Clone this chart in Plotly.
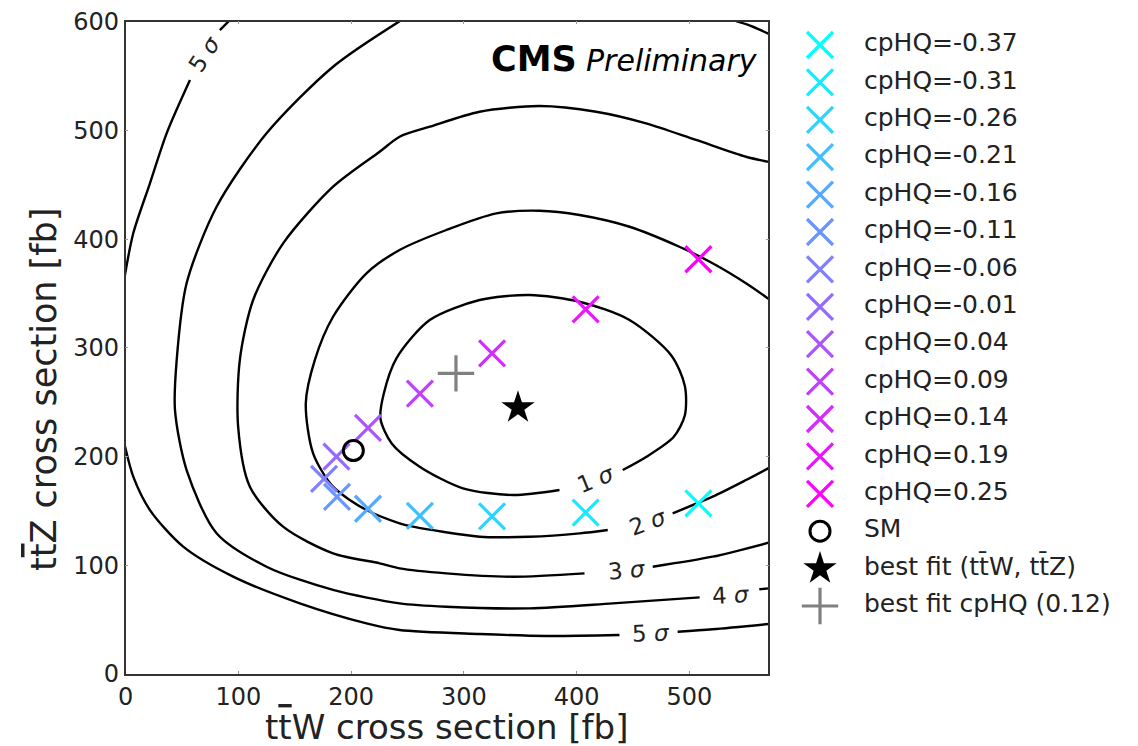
import plotly.graph_objects as go

# ---------------- data ----------------
cphq_values = [-0.37, -0.31, -0.26, -0.21, -0.16, -0.11, -0.06, -0.01,
               0.04, 0.09, 0.14, 0.19, 0.25]
ttw_xsec = [508, 408, 325, 261, 215, 187.5, 176, 187, 215, 261, 325, 408, 508]
ttz_xsec = [157, 148.5, 145, 145.5, 152, 163, 179.5, 200, 226.5, 258, 295, 335.5, 381.5]

sm_ttw, sm_ttz = [202], [205.5]
bestfit_ttw, bestfit_ttz = [348], [245]
bestfit_cphq_ttw, bestfit_cphq_ttz = [293], [276.5]
bestfit_cphq_value = 0.12

# contour lines (None = gap for the inline label)
c1_x = [384.8, 343.5, 299.2, 260.8, 236, 226, 229, 240.2, 269.7, 314.0, 358.3,
        402.6, 446.9, 484, 496, 496, 486, 462, 440.9]
c1_y = [169.2, 164.6, 170.8, 190.7, 212, 235, 258, 290.4, 325.6, 344.0, 348.6,
        342.4, 325.6, 293, 265, 238, 218, 199.9, 187.6]

c2_x = [571, 550.2, 520.6, 491.1, 446.9, 402.6, 367.1, 328.8, 284.5, 243.0, 213.6,
        184.0, 167.8, 159.8, 166.3, 184.0, 213.6, 243.0, 254.9, 314.0, 358.3, 402.6,
        427.6, None, 485.2, 520.6, 550.2, 571]
c2_y = [344.5, 359.4, 377.8, 393.0, 411.4, 422.2, 426.1, 423.7, 408.4, 390.0, 368.6,
        328.6, 288.8, 249.0, 203.0, 172.3, 150.8, 138.6, 135.5, 126.3, 126.3, 129.4,
        132.5, None, 147.8, 163.1, 178.4, 189.8]

c3_x = [571, 550.2, 505.9, 461.6, 417.3, 367.1, 314.0, 269.7, 243.0, 225.3, 184.0,
        139.7, 113.1, 101.3, 99.8, 110.2, 139.7, 184.0, 225.3, 243.0, 284.5, 343.5,
        407.0, None, 467.5, 520.6, 571]
c3_y = [471.0, 475.8, 491.2, 506.5, 517.2, 522.4, 517.2, 503.4, 494.2, 480.4, 448.2,
        396.1, 344.0, 288.8, 227.5, 172.3, 135.5, 111.0, 101.8, 97.2, 92.6, 89.5,
        92.6, None, 98.7, 107.9, 121.0]

c4_x = [541.4, 555, 571, None, 243.1, 184.0, 125.0, 80.7, 54.1, 45.3, 43.8, 54.1,
        80.7, 125.0, 184.0, 243.0, 284.5, 358.3, 432.1, 509.1, None, 562.0, 571]
c4_y = [600.5, 596, 588.5, None, 600.5, 558.6, 497.3, 429.8, 359.4, 288.8, 242.8,
        187.6, 129.4, 98.7, 77.3, 65.0, 61.9, 60.4, 65.0, 70.5, None, 77.9, 78.8]

c5_x = [-1, 6.8, 21.6, 36.4, 57.1, None, 83.6, 91.5, None,
        -1, 6.8, 21.6, 51.1, 95.4, 154.5, 213.6, 243.0, 314.0, 373.1, 438.0, None,
        489.6, 520.6, 571]
c5_y = [364.5, 405.4, 451.3, 497.3, 546.3, None, 592.3, 600.5, None,
        211.5, 181.5, 150.8, 117.1, 89.5, 65.0, 46.6, 40.5, 36.8, 35.0, 35.9, None,
        38.9, 41.1, 46.0]

contour_levels = ["1", "2", "3", "4", "5", "5"]

TBAR = "<span style='text-decoration:overline'>t</span>"
x_title = f"t{TBAR}W cross section [fb]"
y_title = f"t{TBAR}Z cross section [fb]"

# ---------------- figure ----------------
W, H = 1138, 746
x_dom = [125.6 / W, 768.3 / W]
y_dom = [1 - 674 / H, 1 - 21.7 / H]
FONT = "DejaVu Sans"
TXT = "#222222"


def cool(t):
    r = round(255 * t)
    return f"rgb({r},{255 - r},255)"


n = len(cphq_values)
colors = [cool(i / (n - 1)) for i in range(n)]

fig = go.Figure()

for cx, cy in [(c1_x, c1_y), (c2_x, c2_y), (c3_x, c3_y), (c4_x, c4_y), (c5_x, c5_y)]:
    fig.add_trace(go.Scatter(x=cx, y=cy, mode="lines",
                             line=dict(color="black", width=2.4, shape="spline", smoothing=0.8),
                             connectgaps=False, hoverinfo="skip", showlegend=False))

MS = 26
for i in range(n):
    fig.add_trace(go.Scatter(x=[ttw_xsec[i]], y=[ttz_xsec[i]], mode="markers",
                             marker=dict(symbol="x-thin", size=MS, color=colors[i],
                                         line=dict(color=colors[i], width=3.2)),
                             name=f"cpHQ={cphq_values[i]}", showlegend=False))

fig.add_trace(go.Scatter(x=sm_ttw, y=sm_ttz, mode="markers",
                         marker=dict(symbol="circle-open", size=20, color="black",
                                     line=dict(color="black", width=3)),
                         showlegend=False))
fig.add_trace(go.Scatter(x=bestfit_ttw, y=bestfit_ttz, mode="markers",
                         marker=dict(symbol="star", size=25, color="black"),
                         showlegend=False))
fig.add_trace(go.Scatter(x=bestfit_cphq_ttw, y=bestfit_cphq_ttz, mode="markers",
                         marker=dict(symbol="cross-thin", size=MS, color="#808080",
                                     line=dict(color="#808080", width=3.2)),
                         showlegend=False))

# ----- legend drawn on an overlay pixel axis -----
leg_names = [f"cpHQ={v}" for v in cphq_values] + [
    "SM", "best fit (tt\u0304W, tt\u0304Z)", f"best fit cpHQ ({bestfit_cphq_value})"]
row0, step = 45, 37.4
leg_y = [row0 + step * i for i in range(len(leg_names))]
leg_marker_x = 820
leg_text_x = 864

for i in range(n):
    fig.add_trace(go.Scatter(x=[leg_marker_x], y=[leg_y[i]], xaxis="x2", yaxis="y2",
                             mode="markers",
                             marker=dict(symbol="x-thin", size=MS, color=colors[i],
                                         line=dict(color=colors[i], width=3.2)),
                             showlegend=False, hoverinfo="skip"))
fig.add_trace(go.Scatter(x=[leg_marker_x], y=[leg_y[n]], xaxis="x2", yaxis="y2", mode="markers",
                         marker=dict(symbol="circle-open", size=20, color="black",
                                     line=dict(color="black", width=3)),
                         showlegend=False, hoverinfo="skip"))
fig.add_trace(go.Scatter(x=[leg_marker_x], y=[leg_y[n + 1]], xaxis="x2", yaxis="y2", mode="markers",
                         marker=dict(symbol="star", size=25, color="black"),
                         showlegend=False, hoverinfo="skip"))
fig.add_trace(go.Scatter(x=[leg_marker_x], y=[leg_y[n + 2]], xaxis="x2", yaxis="y2", mode="markers",
                         marker=dict(symbol="cross-thin", size=MS, color="#808080",
                                     line=dict(color="#808080", width=3.2)),
                         showlegend=False, hoverinfo="skip"))
fig.add_trace(go.Scatter(x=[leg_text_x] * len(leg_names), y=leg_y, xaxis="x2", yaxis="y2",
                         mode="text", text=leg_names, textposition="middle right",
                         textfont=dict(family=FONT, size=25, color=TXT),
                         showlegend=False, hoverinfo="skip"))

# ----- contour labels -----
label_pos = [(417, 179, -22), (463, 140, -20), (445, 95.5, -5), (537, 72.5, -3),
             (70, 570, -57), (466, 37.5, -2)]
annotations = []
for lev, (lx, ly, ang) in zip(contour_levels, label_pos):
    annotations.append(dict(x=lx, y=ly, xref="x", yref="y", text=f"{lev} <i>σ</i>",
                            showarrow=False, textangle=ang,
                            font=dict(family=FONT, size=23, color=TXT)))

annotations.append(dict(x=579, y=59, xref="x2", yref="y2", text="<b>CMS</b>", showarrow=False,
                        xanchor="right", yanchor="middle",
                        font=dict(family=FONT, size=35, color="black")))
annotations.append(dict(x=584, y=60, xref="x2", yref="y2", text="<i>Preliminary</i>",
                        showarrow=False, xanchor="left", yanchor="middle",
                        font=dict(family=FONT, size=30, color="black")))
# axis titles
annotations.append(dict(x=446, y=727, xref="x2", yref="y2", text=x_title, showarrow=False,
                        xanchor="center", yanchor="middle",
                        font=dict(family=FONT, size=34, color=TXT)))
annotations.append(dict(x=44, y=390, xref="x2", yref="y2", text=y_title, showarrow=False,
                        textangle=-90, xanchor="center", yanchor="middle",
                        font=dict(family=FONT, size=35, color=TXT)))

axis_common = dict(showgrid=False, zeroline=False, showline=True, linecolor="#333333",
                   linewidth=1.5, mirror="ticks", ticks="inside", ticklen=3,
                   tickcolor="#999999", automargin=False,
                   tickfont=dict(family=FONT, size=24, color=TXT))

fig.update_layout(
    width=W, height=H,
    margin=dict(l=0, r=0, t=0, b=0, pad=0, autoexpand=False),
    paper_bgcolor="white", plot_bgcolor="rgba(0,0,0,0)",
    showlegend=False,
    xaxis=dict(domain=x_dom, range=[0, 570], tickvals=[0, 100, 200, 300, 400, 500],
               **axis_common),
    yaxis=dict(domain=y_dom, range=[0, 600], tickvals=[0, 100, 200, 300, 400, 500, 600],
               **axis_common),
    xaxis2=dict(domain=[0, 1], range=[0, W], visible=False, fixedrange=True,
                anchor="y2", automargin=False),
    yaxis2=dict(domain=[0, 1], range=[H, 0], visible=False, fixedrange=True,
                anchor="x2", automargin=False),
    annotations=annotations,
)

fig.write_html("out.html")
